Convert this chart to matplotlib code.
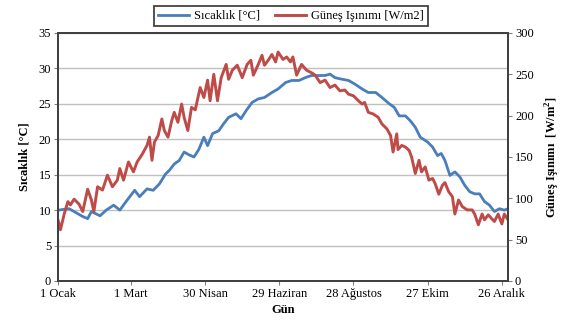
import matplotlib.pyplot as plt

# gün ve sıcaklık (okunan değerler)
t_days = [1, 10, 21, 25, 28, 35, 40, 46, 51, 56, 63, 67, 73, 78, 83, 88, 91, 95, 99,
          103, 107, 111, 115, 119, 122, 126, 131, 135, 139, 145, 149, 153, 158, 163,
          168, 174, 179, 185, 190, 196, 201, 206, 212, 217, 221, 225, 230, 236, 241,
          247, 252, 258, 263, 269, 273, 277, 282, 286, 290, 294, 300, 304, 308, 311,
          314, 318, 322, 326, 330, 334, 338, 342, 346, 350, 354, 358, 362, 365]
temp = [10.0, 10.2, 9.1, 8.8, 9.8, 9.2, 10.0, 10.7, 10.0, 11.2, 12.8, 11.9, 13.0, 12.8,
        13.7, 15.1, 15.6, 16.5, 17.0, 18.2, 17.8, 17.5, 18.6, 20.3, 19.1, 20.8, 21.2,
        22.2, 23.1, 23.6, 22.9, 24.0, 25.2, 25.7, 25.9, 26.6, 27.1, 28.0, 28.3, 28.3,
        28.7, 29.0, 29.0, 29.0, 29.2, 28.7, 28.5, 28.3, 27.8, 27.1, 26.6, 26.6, 25.9,
        25.0, 24.5, 23.3, 23.3, 22.6, 21.7, 20.3, 19.6, 18.9, 17.7, 18.0, 17.0, 14.9,
        15.4, 14.7, 13.5, 12.6, 12.3, 12.3, 11.2, 10.7, 9.8, 10.2, 10.0, 10.2]

# gün ve güneş ışınımı
r_days = [1, 3, 6, 9, 11, 14, 18, 21, 25, 28, 30, 33, 37, 41, 45, 49, 51, 54, 58, 62,
          65, 69, 73, 75, 77, 79, 82, 85, 87, 90, 93, 95, 98, 101, 103, 106, 109, 112,
          116, 119, 122, 124, 127, 130, 133, 137, 139, 142, 146, 150, 154, 157, 159,
          163, 166, 168, 171, 174, 177, 179, 183, 186, 189, 191, 194, 198, 202, 206,
          209, 213, 217, 221, 225, 229, 233, 236, 240, 244, 247, 249, 252, 256, 260,
          263, 267, 270, 272, 275, 276, 279, 282, 285, 287, 290, 293, 295, 298, 301,
          304, 306, 309, 312, 314, 317, 320, 322, 325, 328, 332, 336, 338, 341, 344,
          346, 349, 352, 354, 357, 360, 362, 365]
rad = [74, 62, 81, 96, 92, 99, 93, 84, 111, 98, 84, 114, 110, 128, 114, 122, 136, 122,
       144, 132, 144, 153, 164, 174, 146, 168, 176, 196, 182, 174, 194, 204, 192, 214,
       198, 182, 210, 207, 234, 222, 243, 218, 250, 218, 246, 262, 244, 255, 261, 246,
       262, 267, 249, 262, 273, 261, 267, 274, 265, 277, 268, 271, 265, 271, 249, 262,
       255, 252, 249, 240, 243, 234, 237, 230, 231, 226, 224, 218, 214, 216, 204, 202,
       198, 190, 184, 176, 156, 178, 159, 164, 162, 158, 150, 130, 146, 132, 138, 122,
       124, 118, 105, 116, 119, 108, 102, 81, 98, 90, 86, 86, 81, 68, 81, 74, 80, 75,
       72, 81, 69, 81, 74]

tick_days = [1, 60, 120, 180, 240, 300, 360]
tick_names = ['1 Ocak', '1 Mart', '30 Nisan', '29 Haziran', '28 Ağustos', '27 Ekim', '26 Aralık']

plt.rcParams['font.family'] = ['Liberation Serif', 'DejaVu Serif']
plt.rcParams['font.size'] = 9

fig = plt.figure(figsize=(5.67, 3.27), dpi=100)
ax = fig.add_axes([0.1023, 0.1407, 0.7937, 0.7584])
ax2 = ax.twinx()

l1, = ax.plot(t_days, temp, color='#4a7ebb', lw=2.0)
l2, = ax2.plot(r_days, rad, color='#be4b48', lw=2.1)

ax.set_xlim(1, 365)
ax.set_ylim(0, 35)
ax.set_yticks(range(0, 36, 5))
ax2.set_ylim(0, 300)
ax2.set_yticks(range(0, 301, 50))
ax.set_xticks(tick_days)
ax.set_xticklabels(tick_names)

ax.grid(axis='y', color='#c0c0c0', lw=1)
ax.set_axisbelow(True)
for a in (ax, ax2):
    for s in a.spines.values():
        s.set_color('#404040')
        s.set_linewidth(1.3)
    a.tick_params(direction='out', length=3, color='#808080', width=0.8, pad=2)

ax.set_xlabel('Gün', fontweight='bold', labelpad=3)
ax.set_ylabel('Sıcaklık [°C]', fontweight='bold', labelpad=6)
ax2.set_ylabel('Güneş Işınımı  [W/m$^\\mathregular{2}$]', fontweight='bold', labelpad=7)

fig.legend([l1, l2], ['Sıcaklık [°C]', 'Güneş Işınımı [W/m2]'], loc='upper center',
           bbox_to_anchor=(0.513, 1.0), ncol=2, frameon=True, fancybox=False,
           edgecolor='black', handlelength=2.5, columnspacing=1.2, borderpad=0.3,
           handletextpad=0.4)
fig.legends[0].get_frame().set_linewidth(1.2)

fig.savefig('out.png', dpi=100)
